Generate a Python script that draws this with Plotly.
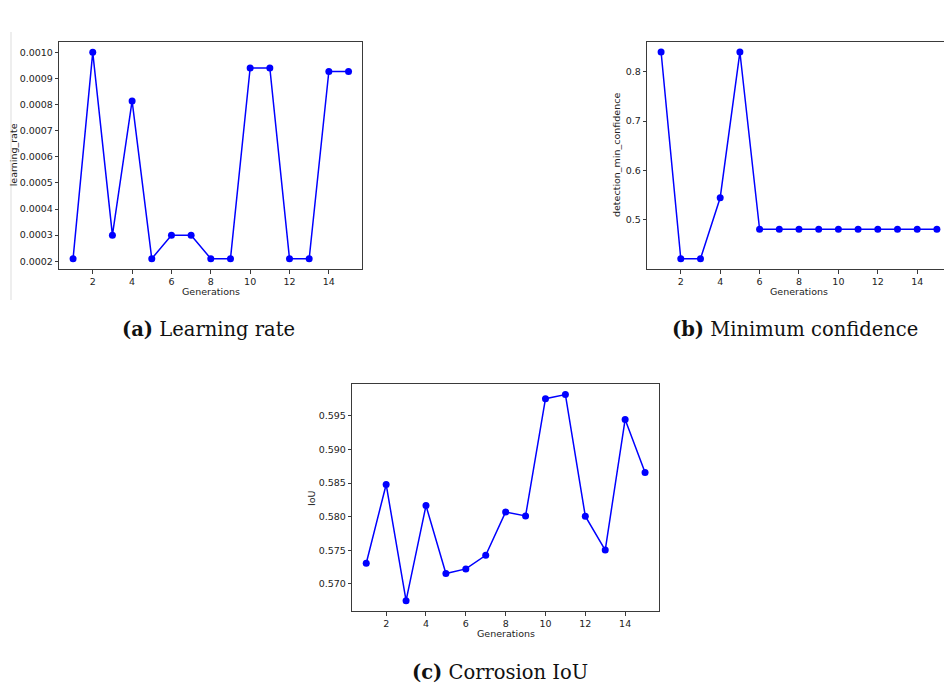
import plotly.graph_objects as go

generations = list(range(1, 16))
learning_rate = [0.00021, 0.00100, 0.00030, 0.000814, 0.00021, 0.00030, 0.00030,
                 0.00021, 0.00021, 0.00094, 0.00094, 0.00021, 0.00021, 0.000927, 0.000927]
min_confidence = [0.840, 0.4216, 0.4216, 0.545, 0.840, 0.481, 0.481, 0.481,
                  0.481, 0.481, 0.481, 0.481, 0.481, 0.481, 0.481]
iou = [0.57306, 0.58479, 0.56749, 0.58164, 0.57153, 0.57222, 0.57424, 0.58070,
       0.58011, 0.59756, 0.59816, 0.58006, 0.57503, 0.59446, 0.58657]

lr_ticks = [0.0002, 0.0003, 0.0004, 0.0005, 0.0006, 0.0007, 0.0008, 0.0009, 0.0010]
conf_ticks = [0.5, 0.6, 0.7, 0.8]
iou_ticks = [0.570, 0.575, 0.580, 0.585, 0.590, 0.595]
gen_ticks = [2, 4, 6, 8, 10, 12, 14]

captions = [("(a)", "Learning rate"), ("(b)", "Minimum confidence"), ("(c)", "Corrosion IoU")]

W, H = 944, 684
BLUE = "#0000ff"
SPINE = "#3a3a3a"
TICKFONT = dict(family="DejaVu Sans", size=9.5, color="#222")

def pad(vals):
    lo, hi = min(vals), max(vals)
    m = (hi - lo) * 0.05
    return [lo - m, hi + m]

def px_x(p):
    return p / W

def px_y(p):
    return 1 - p / H

fig = go.Figure()
series = [(learning_rate, "x", "y"), (min_confidence, "x2", "y2"), (iou, "x3", "y3")]
for vals, xa, ya in series:
    fig.add_trace(go.Scatter(x=generations, y=vals, xaxis=xa, yaxis=ya, mode="lines+markers",
                             line=dict(color=BLUE, width=1.5),
                             marker=dict(color=BLUE, size=7), showlegend=False))

def xaxis(dom, anchor, rng):
    return dict(domain=dom, anchor=anchor, range=rng, tickvals=gen_ticks,
                ticks="outside", ticklen=3.5, tickcolor=SPINE, tickfont=TICKFONT,
                showgrid=False, zeroline=False, showline=True, linecolor=SPINE,
                linewidth=1, mirror=True)

def yaxis(dom, anchor, rng, tv, fmt, mirror=True):
    return dict(domain=dom, anchor=anchor, range=rng, tickvals=tv, tickformat=fmt,
                ticks="outside", ticklen=3.5, tickcolor=SPINE, tickfont=TICKFONT,
                showgrid=False, zeroline=False, showline=True, linecolor=SPINE,
                linewidth=1, mirror=mirror)

xr = [0.3, 15.7]
fig.update_layout(
    width=W, height=H, margin=dict(l=0, r=0, t=0, b=0),
    paper_bgcolor="white", plot_bgcolor="white",
    xaxis=xaxis([px_x(59.3), px_x(362.3)], "y", xr),
    yaxis=yaxis([px_y(269), px_y(42)], "x", pad(learning_rate), lr_ticks, ".4f"),
    xaxis2=xaxis([px_x(647.3), 1.0], "y2", [0.3, 0.3 + (944 - 647.3) / 19.7]),
    yaxis2=yaxis([px_y(269), px_y(41.7)], "x2", pad(min_confidence), conf_ticks, ".1f", mirror=False),
    xaxis3=xaxis([px_x(352.3), px_x(659)], "y3", xr),
    yaxis3=yaxis([px_y(611), px_y(384.3)], "x3", pad(iou), iou_ticks, ".3f"),
)

AXFONT = dict(family="DejaVu Sans", size=9.5, color="#222")
ann = []
# x-axis titles
for cx, cy in [((59.3 + 362.3) / 2, 292), ((647.3 + 950) / 2, 292), ((352.3 + 659) / 2, 633)]:
    ann.append(dict(text="Generations", x=px_x(cx), y=px_y(cy), xref="paper", yref="paper",
                    showarrow=False, font=AXFONT, xanchor="center", yanchor="middle"))
# y-axis titles
for txt, cx, cy in [("learning_rate", 13.3, 155), ("detection_min_confidence", 616, 155),
                    ("IoU", 311, 498)]:
    ann.append(dict(text=txt, x=px_x(cx), y=px_y(cy), xref="paper", yref="paper",
                    showarrow=False, font=AXFONT, textangle=-90, xanchor="center", yanchor="middle"))
# captions
CAPFONT = dict(family="DejaVu Serif", size=19.5, color="#111")
for (lab, txt), cx, cy in zip(captions, [208.5, 794.5, 500], [329, 329, 672]):
    ann.append(dict(text=f"<b>{lab}</b> {txt}", x=px_x(cx), y=px_y(cy), xref="paper", yref="paper",
                    showarrow=False, font=CAPFONT, xanchor="center", yanchor="middle"))
fig.update_layout(annotations=ann)

fig.add_shape(type="line", xref="paper", yref="paper", x0=px_x(11), x1=px_x(11),
              y0=px_y(32), y1=px_y(300), line=dict(color="#dddddd", width=1))

fig.write_html("out.html")
